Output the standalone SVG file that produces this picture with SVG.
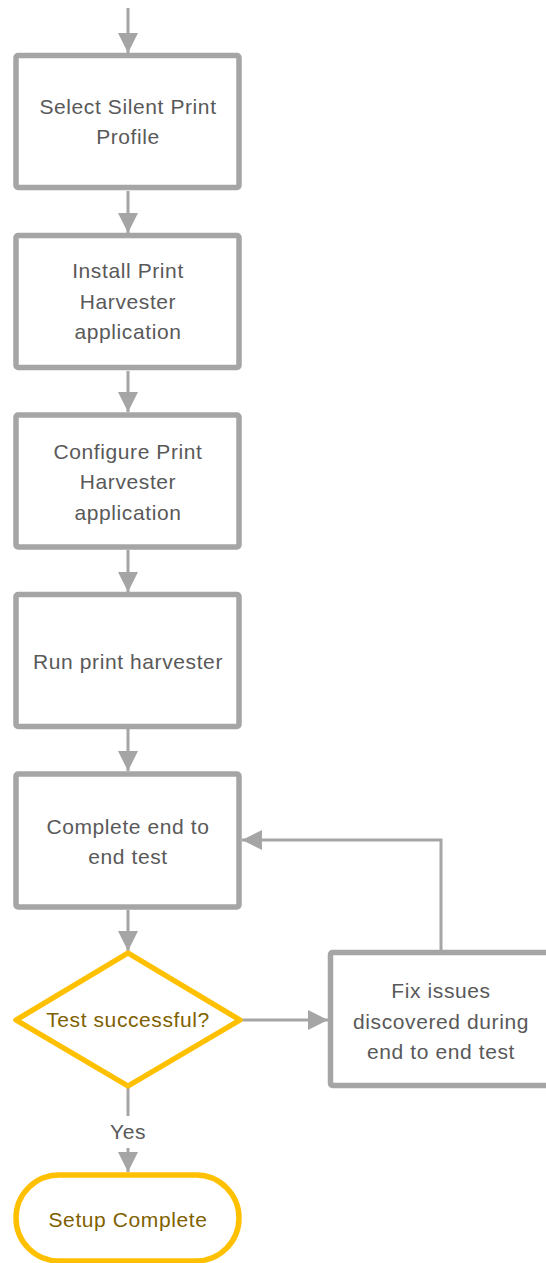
<svg xmlns="http://www.w3.org/2000/svg" width="546" height="1263" viewBox="0 0 546 1263">
  <style>
    .box { fill: #ffffff; stroke: #a5a5a5; stroke-width: 5.5; }
    .dec { fill: #ffffff; stroke: #ffc000; stroke-width: 5.5; stroke-linejoin: round; }
    .conn { fill: none; stroke: #a5a5a5; stroke-width: 3; }
    .lbl { font-family: "Liberation Sans", Arial, sans-serif; font-size: 21px; letter-spacing: 0.6px; fill: #595959; text-anchor: middle; }
    .ylbl { font-family: "Liberation Sans", Arial, sans-serif; font-size: 21px; letter-spacing: 0.6px; fill: #7f6000; text-anchor: middle; }
  </style>
  <defs>
    <marker id="arrow" viewBox="0 0 20 20" refX="20" refY="10" markerWidth="20" markerHeight="20" markerUnits="userSpaceOnUse" orient="auto">
      <path d="M0,0 L20,10 L0,20 Z" fill="#a5a5a5"/>
    </marker>
  </defs>

  <g id="connectors">
    <path class="conn" d="M128,8 V53" marker-end="url(#arrow)"/>
    <path class="conn" d="M128,191 V233" marker-end="url(#arrow)"/>
    <path class="conn" d="M128,371 V412" marker-end="url(#arrow)"/>
    <path class="conn" d="M128,550 V592" marker-end="url(#arrow)"/>
    <path class="conn" d="M128,729 V771" marker-end="url(#arrow)"/>
    <path class="conn" d="M128,910 V951" marker-end="url(#arrow)"/>
    <path class="conn" d="M242,1020 H328" marker-end="url(#arrow)"/>
    <path class="conn" d="M441,950 V840 H242" marker-end="url(#arrow)"/>
    <path class="conn" d="M128,1088 V1116"/>
    <path class="conn" d="M128,1148 V1172" marker-end="url(#arrow)"/>
    <text class="lbl" x="128" y="1139">Yes</text>
  </g>

  <g id="select-profile">
    <rect class="box" x="16" y="55.5" width="223" height="132" rx="2"/>
    <text class="lbl" x="128" y="114">Select Silent Print</text>
    <text class="lbl" x="128" y="144">Profile</text>
  </g>

  <g id="install-harvester">
    <rect class="box" x="16" y="235.5" width="223" height="132" rx="2"/>
    <text class="lbl" x="128" y="278">Install Print</text>
    <text class="lbl" x="128" y="309">Harvester</text>
    <text class="lbl" x="128" y="339">application</text>
  </g>

  <g id="configure-harvester">
    <rect class="box" x="16" y="415" width="223" height="132" rx="2"/>
    <text class="lbl" x="128" y="459">Configure Print</text>
    <text class="lbl" x="128" y="489">Harvester</text>
    <text class="lbl" x="128" y="520">application</text>
  </g>

  <g id="run-harvester">
    <rect class="box" x="16" y="594.5" width="223" height="132" rx="2"/>
    <text class="lbl" x="128" y="669">Run print harvester</text>
  </g>

  <g id="end-to-end-test">
    <rect class="box" x="16" y="774" width="223" height="133" rx="2"/>
    <text class="lbl" x="128" y="834">Complete end to</text>
    <text class="lbl" x="128" y="864">end test</text>
  </g>

  <g id="test-successful">
    <polygon class="dec" points="128,953 240,1020 128,1086 16,1020"/>
    <text class="ylbl" x="128" y="1027">Test successful?</text>
  </g>

  <g id="fix-issues">
    <rect class="box" x="330.5" y="952.5" width="222" height="133" rx="2"/>
    <text class="lbl" x="441" y="998">Fix issues</text>
    <text class="lbl" x="441" y="1029">discovered during</text>
    <text class="lbl" x="441" y="1059">end to end test</text>
  </g>

  <g id="setup-complete">
    <rect class="dec" x="16" y="1175" width="223" height="86" rx="43"/>
    <text class="ylbl" x="128" y="1227">Setup Complete</text>
  </g>
</svg>
